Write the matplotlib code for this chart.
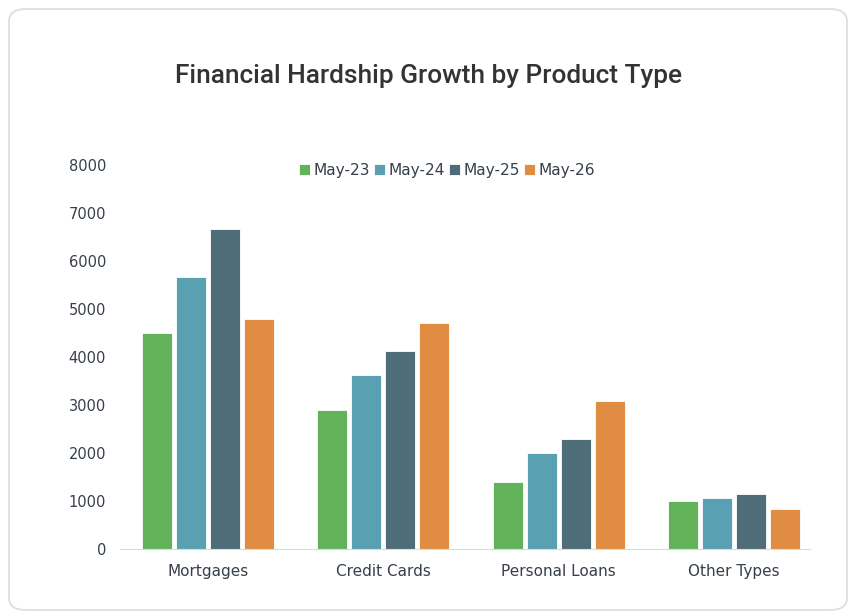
import matplotlib.pyplot as plt
from matplotlib.patches import FancyBboxPatch
import numpy as np

categories = ["Mortgages", "Credit Cards", "Personal Loans", "Other Types"]
series_names = ["May-23", "May-24", "May-25", "May-26"]
may23 = [4500, 2890, 1400, 1000]
may24 = [5660, 3630, 2000, 1060]
may25 = [6660, 4130, 2300, 1140]
may26 = [4790, 4710, 3080, 830]
y_ticks = [0, 1000, 2000, 3000, 4000, 5000, 6000, 7000, 8000]

colors = ["#62b25a", "#5aa0b3", "#4f6d79", "#e08c42"]
text_col = "#373f4a"

plt.rcParams["font.family"] = ["DejaVu Sans"]

W, H = 854, 614
fig = plt.figure(figsize=(W / 100, H / 100), dpi=100)

# rounded card behind everything
card = FancyBboxPatch((9 / W, 4 / H), 838 / W, 601 / H,
                      boxstyle="round,pad=0,rounding_size=0.02",
                      transform=fig.transFigure, facecolor="white",
                      edgecolor="#dedede", linewidth=1.3, zorder=-5)
fig.patches.append(card)

fig.text(429 / W, 1 - 76 / H, "Financial Hardship Growth by Product Type",
         ha="center", va="center", fontsize=18.9, family="Roboto",
         fontweight="medium", color="#333333")

ax = fig.add_axes([120 / W, 1 - 549 / H, 702 / W, 384 / H])
ax.patch.set_alpha(0)

x = np.arange(len(categories))
width = 0.171
step = 0.194
for i, (vals, name) in enumerate(zip([may23, may24, may25, may26], series_names)):
    ax.bar(x + (i - 1.5) * step, vals, width, color=colors[i], label=name,
           edgecolor="#ffffff", linewidth=0.6, zorder=2)

ax.set_xlim(-0.5, 3.5)
ax.set_ylim(0, 8000)
ax.set_yticks(y_ticks)
ax.set_yticklabels([str(v) for v in y_ticks], fontsize=10.5, color=text_col)
ax.set_xticks(x)
ax.set_xticklabels(categories, fontsize=11, color=text_col)
ax.tick_params(axis="both", length=0)
ax.tick_params(axis="y", pad=10)
ax.tick_params(axis="x", pad=11)
for s in ["top", "right", "left"]:
    ax.spines[s].set_visible(False)
ax.spines["bottom"].set_color("#d8dbe2")
ax.spines["bottom"].set_bounds(-0.5, 3.43)

leg = fig.legend(loc="center", bbox_to_anchor=(447 / W, 1 - 170 / H), ncol=4,
                 frameon=False, fontsize=11.1, handlelength=0.7, handleheight=0.7,
                 handletextpad=0.2, columnspacing=0.3, borderaxespad=0)
for t in leg.get_texts():
    t.set_color(text_col)

fig.savefig("out.png", dpi=100, facecolor="white")
